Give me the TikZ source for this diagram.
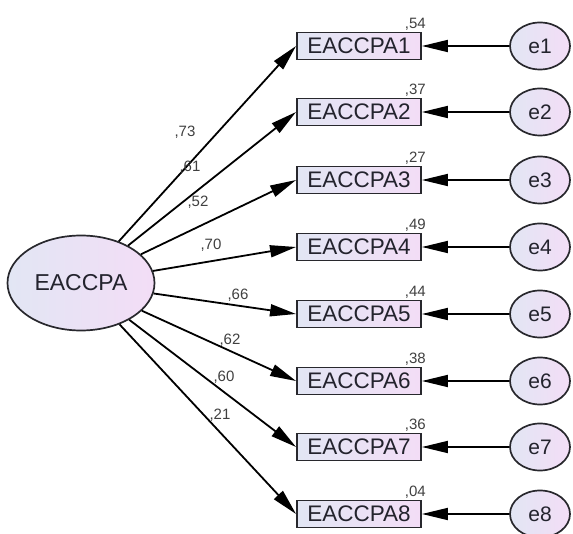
\documentclass[tikz,border=0pt]{standalone}
\usepackage{fontspec}
\setmainfont{Liberation Sans}
\usetikzlibrary{arrows.meta,shapes.geometric}
\definecolor{lavA}{RGB}{226,230,244}
\definecolor{lavB}{RGB}{243,221,246}
\definecolor{edge}{RGB}{40,40,45}
\definecolor{txt}{RGB}{35,35,45}
\tikzset{
  latent/.style={ellipse,draw=edge,line width=1.7pt,left color=lavA,right color=lavB,inner sep=0pt,text=txt,font=\fontsize{23}{26}\selectfont},
  errvar/.style={ellipse,draw=edge,line width=1.7pt,left color=lavA,right color=lavB,minimum width=60pt,minimum height=47pt,inner sep=0pt,text=txt,font=\fontsize{21}{24}\selectfont},
  obsbox/.style={rectangle,draw=edge,line width=1.9pt,left color=lavA,right color=lavB,minimum width=124pt,minimum height=27pt,inner sep=0pt,text=txt,font=\fontsize{22.5}{25}\selectfont},
  path/.style={line width=1.8pt,draw=black,-{Triangle[length=26pt,width=12pt]}},
  est/.style={font=\fontsize{15}{17}\selectfont,text=black!75,inner sep=1pt}
}
\begin{document}
\begin{tikzpicture}[x=1pt,y=-1pt]
\useasboundingbox (0,0) rectangle (573,534);
\node[latent,minimum width=147pt,minimum height=95pt] (L) at (81,283) {EACCPA};
\foreach \i/\y/\v in {1/46/54,2/112/37,3/180/27,4/247/49,5/314/44,6/381/38,7/447/36,8/514/04}{
  \node[obsbox] (B\i) at (359,\y) {EACCPA\i};
  \node[errvar] (E\i) at (540,\y) {e\i};
  \node[est,anchor=south east] (V\i) at (427,\y-14) {,\v};
  \draw[path] (E\i) -- (B\i);
}
\foreach \i in {1,...,8}{
  \draw[path] (L) -- (B\i.west);
}
\node[est] (c1) at (185,132) {,73};
\node[est] (c2) at (190,167) {,61};
\node[est] (c3) at (198,202) {,52};
\node[est] (c4) at (211,245) {,70};
\node[est] (c5) at (238,295) {,66};
\node[est] (c6) at (230,340) {,62};
\node[est] (c7) at (224,377) {,60};
\node[est] (c8) at (220,415) {,21};
\end{tikzpicture}
\end{document}
